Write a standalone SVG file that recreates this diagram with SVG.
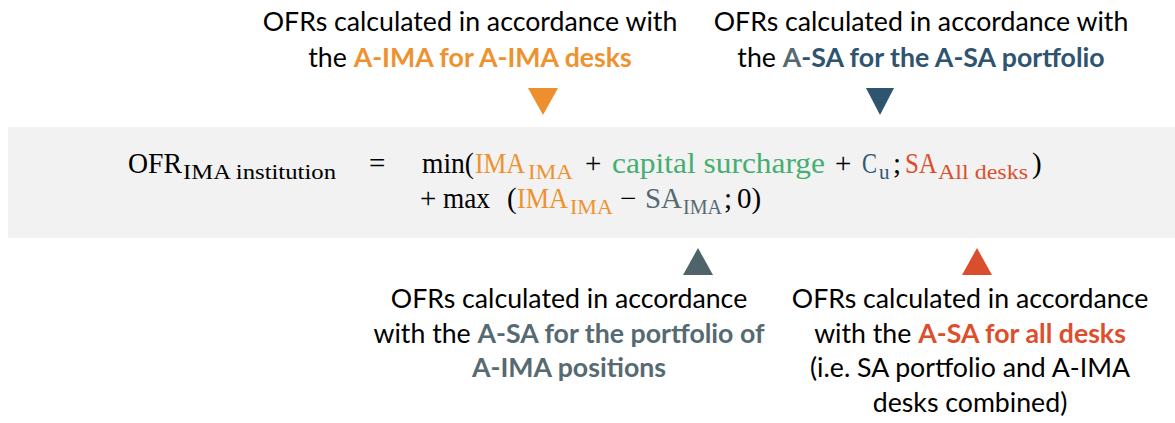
<svg xmlns="http://www.w3.org/2000/svg" width="1175" height="423" viewBox="0 0 1175 423">
<style>
.lbl{font-family:Lato,"Open Sans",sans-serif;font-size:26.7px;fill:#000;text-anchor:middle}
.b{font-weight:bold}
.f{font-family:"Liberation Serif","DejaVu Serif",serif;font-size:29px;fill:#000}
.s{font-size:21px}
.or{fill:#EE9230}.gr{fill:#45AE70}.bl{fill:#33597A}.rd{fill:#DD4E2C}.gy{fill:#566A72}.nv{fill:#2F5470}
</style>
<rect id="band" x="8" y="127" width="1167" height="111" fill="#F2F2F2"/>
<g id="formula" lengthAdjust="spacingAndGlyphs">
<text class="f" x="128" y="173" textLength="54" lengthAdjust="spacingAndGlyphs">OFR</text>
<text class="f s" x="183" y="179" textLength="153" lengthAdjust="spacingAndGlyphs">IMA institution</text>
<text class="f" x="369" y="173">=</text>
<text class="f" x="422" y="173" textLength="52" lengthAdjust="spacingAndGlyphs">min(</text>
<text class="f or" x="475" y="173" textLength="50" lengthAdjust="spacingAndGlyphs">IMA</text>
<text class="f s or" x="528" y="179" textLength="45" lengthAdjust="spacingAndGlyphs">IMA</text>
<text class="f" x="585" y="173">+</text>
<text class="f gr" x="612" y="173" textLength="213" lengthAdjust="spacingAndGlyphs">capital surcharge</text>
<text class="f" x="835" y="173">+</text>
<text class="f bl" x="862" y="173" textLength="15" lengthAdjust="spacingAndGlyphs">C</text>
<text class="f s bl" x="879" y="179">u</text>
<text class="f" x="893" y="173">;</text>
<text class="f rd" x="905" y="173" textLength="32" lengthAdjust="spacingAndGlyphs">SA</text>
<text class="f s rd" x="938" y="179" textLength="90" lengthAdjust="spacingAndGlyphs">All desks</text>
<text class="f" x="1032" y="173">)</text>
<text class="f" x="420" y="208">+</text>
<text class="f" x="443" y="208" textLength="47" lengthAdjust="spacingAndGlyphs">max</text>
<text class="f" x="507" y="208">(</text>
<text class="f or" x="517" y="208" textLength="51" lengthAdjust="spacingAndGlyphs">IMA</text>
<text class="f s or" x="570" y="214" textLength="43" lengthAdjust="spacingAndGlyphs">IMA</text>
<text class="f" x="620" y="208">−</text>
<text class="f gy" x="645" y="208" textLength="37" lengthAdjust="spacingAndGlyphs">SA</text>
<text class="f s gy" x="683" y="214" textLength="39" lengthAdjust="spacingAndGlyphs">IMA</text>
<text class="f" x="724" y="208">;</text>
<text class="f" x="737" y="208">0)</text>
</g>
<g id="connectors">
<polygon points="528,88 558,88 543,115" fill="#EE8F2E"/>
<polygon points="866,88 894,88 880,115" fill="#2F5470"/>
<polygon points="683,275 713,275 698,248" fill="#4F636A"/>
<polygon points="962,275 992,275 977,248" fill="#D94F2D"/>
</g>
<g id="node-aima">
<text class="lbl" x="470" y="31">OFRs calculated in accordance with</text>
<text class="lbl" x="470" y="67">the <tspan class="b or">A-IMA for A-IMA desks</tspan></text>
</g>
<g id="node-asa">
<text class="lbl" x="921" y="31">OFRs calculated in accordance with</text>
<text class="lbl" x="921" y="67">the <tspan class="b gy">A</tspan><tspan class="b nv">-SA for the A-SA portfolio</tspan></text>
</g>
<g id="node-asa-ima">
<text class="lbl" x="569" y="308">OFRs calculated in accordance</text>
<text class="lbl" x="569" y="343">with the <tspan class="b gy">A-SA for the portfolio of</tspan></text>
<text class="lbl b gy" x="569" y="377">A-IMA positions</text>
</g>
<g id="node-asa-all">
<text class="lbl" x="970" y="308">OFRs calculated in accordance</text>
<text class="lbl" x="970" y="343">with the <tspan class="b rd">A-SA for all desks</tspan></text>
<text class="lbl" x="970" y="377">(i.e. SA portfolio and A-IMA</text>
<text class="lbl" x="970" y="412">desks combined)</text>
</g>
</svg>
